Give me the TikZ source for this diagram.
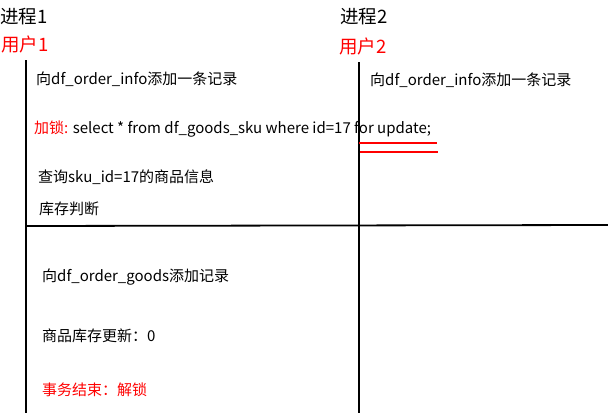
\documentclass[tikz,border=0pt]{standalone}
\usepackage{fontspec}
\setmainfont{Noto Sans CJK SC}
\begin{document}
\begin{tikzpicture}[x=1pt,y=-1pt,
  head/.style={anchor=west,inner sep=0pt,font=\fontsize{18.5}{20}\selectfont},
  txt/.style={anchor=west,inner sep=0pt,font=\fontsize{15}{17}\selectfont},
  axis/.style={line width=1.8pt,black},
  mark line/.style={line width=1.6pt,red}]
\useasboundingbox (0,0) rectangle (608,415);
\fill[white] (0,0) rectangle (608,415);
% headers
\node[head] (p1) at (0,17) {进程1};
\node[head,red] (u1) at (1,44) {用户1};
\node[head] (p2) at (340,17) {进程2};
\node[head,red] (u2) at (339,46) {用户2};
% axes
\coordinate (a1t) at (26,60);
\coordinate (a1b) at (26,413);
\coordinate (a2t) at (359,62);
\coordinate (a2b) at (359,413);
\coordinate (hl) at (26,226);
\coordinate (hr) at (608,225);
\draw[axis] (a1t) -- (a1b);
\draw[axis] (a2t) -- (a2b);
\draw[axis] (hl) -- (hr);
% red marks
\coordinate (r1l) at (359,143);
\coordinate (r1r) at (437,143);
\coordinate (r2l) at (360,152);
\coordinate (r2r) at (438,152);
\draw[mark line] (r1l) -- (r1r);
\draw[mark line] (r2l) -- (r2r);
% texts
\node[txt] (t1) at (36,79) {向df\_order\_info添加一条记录};
\node[txt] (t2) at (370,80) {向df\_order\_info添加一条记录};
\node[txt] (t3) at (34,129) {\textcolor{red}{加锁:} select * from df\_goods\_sku where id=17 for update;};
\node[txt] (t4) at (38,177) {查询sku\_id=17的商品信息};
\node[txt] (t5) at (39,209) {库存判断};
\node[txt] (t6) at (42,277) {向df\_order\_goods添加记录};
\node[txt] (t7) at (42,336) {商品库存更新：0};
\node[txt,red] (t8) at (42,390) {事务结束：解锁};
\end{tikzpicture}
\end{document}
